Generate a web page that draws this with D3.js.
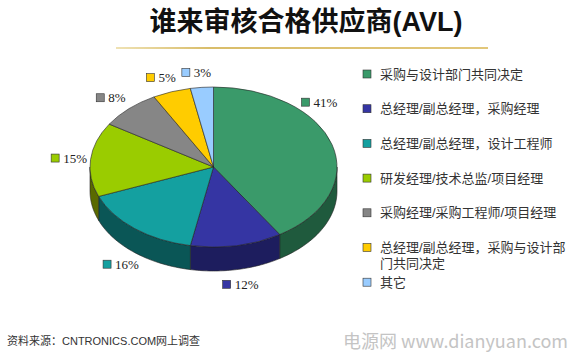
<!DOCTYPE html>
<html>
<head>
<meta charset="utf-8">
<script src="https://cdn.jsdelivr.net/npm/d3@7"></script>
<style>
  body { margin: 0; background: #fff; }
  svg { display: block; }
</style>
</head>
<body>
<script>
// data
const categories = [
  "采购与设计部门共同决定",
  "总经理/副总经理，采购经理",
  "总经理/副总经理，设计工程师",
  "研发经理/技术总监/项目经理",
  "采购经理/采购工程师/项目经理",
  "总经理/副总经理，采购与设计部门共同决定",
  "其它"
];
const shares = [41, 12, 16, 15, 8, 5, 3];

// colours: top face and darker side wall
const topColors  = ["#3a9a6a", "#3535a3", "#14a0a0", "#9acc00", "#868686", "#ffcc00", "#99ccff"];
const sideColors = ["#1f5a3d", "#1d1d5e", "#0a5656", "#5a6a00", "#4a4a4a", "#8a7000", "#55708c"];

const width = 578, height = 352;

// pie geometry (ellipse for the 3d look)
const cx = 213.5, cy = 167, rx = 123.5, ry = 80, depth = 24;

const svg = d3.select("body")
  .append("svg")
    .attr("width", width)
    .attr("height", height);

// title + gold rule
svg.append("text")
  .attr("x", 306)
  .attr("y", 31)
  .attr("text-anchor", "middle")
  .attr("font-family", "'Liberation Sans', 'Noto Sans CJK SC', sans-serif")
  .attr("font-weight", "bold")
  .attr("font-size", 27)
  .attr("fill", "#111")
  .text("谁来审核合格供应商(AVL)");

const grad = svg.append("defs").append("linearGradient")
  .attr("id", "rule").attr("x1", "0%").attr("x2", "100%");
grad.append("stop").attr("offset", "0%").attr("stop-color", "#efe2b4");
grad.append("stop").attr("offset", "25%").attr("stop-color", "#d9bd6a");
grad.append("stop").attr("offset", "100%").attr("stop-color", "#e2c77a");

svg.append("rect")
  .attr("x", 116).attr("y", 47)
  .attr("width", 372).attr("height", 2)
  .attr("fill", "url(#rule)");

// Compute the slices, starting at 12 o'clock going clockwise
const pie = d3.pie().sort(null).value(d => d);
const arcs = pie(shares);

const pt = (a, dz) => [cx + rx * Math.sin(a), cy - ry * Math.cos(a) + dz];

// side walls first (only the front half shows)
const line = d3.line();
arcs.forEach((d, i) => {
  const a0 = Math.max(d.startAngle, Math.PI / 2);
  const a1 = Math.min(d.endAngle, Math.PI * 3 / 2);
  if (a0 >= a1) return;
  const steps = d3.range(0, 41).map(k => a0 + (a1 - a0) * k / 40);
  const pts = steps.map(a => pt(a, 0)).concat(steps.slice().reverse().map(a => pt(a, depth)));
  svg.append("path")
    .attr("d", line(pts) + "Z")
    .attr("fill", sideColors[i])
    .attr("stroke", "#222")
    .attr("stroke-width", 0.6)
    .attr("stroke-linejoin", "round");
});

// top faces: a normal arc squashed vertically
const arcGenerator = d3.arc().innerRadius(0).outerRadius(rx);
svg.append("g")
    .attr("transform", `translate(${cx},${cy}) scale(1,${ry / rx})`)
  .selectAll("path")
  .data(arcs)
  .join("path")
    .attr("d", arcGenerator)
    .attr("fill", (d, i) => topColors[i])
    .attr("stroke", "#222")
    .attr("stroke-width", 0.6)
    .attr("vector-effect", "non-scaling-stroke");

// percentage labels round the pie
const lrx = 145, lry = 95, maxDx = 106;
const labels = svg.append("g");
arcs.forEach((d, i) => {
  const mid = (d.startAngle + d.endAngle) / 2;
  let dx = lrx * Math.sin(mid);
  let dy = -lry * Math.cos(mid);
  if (dx > maxDx) {
    // keep clear of the legend: slide along the ellipse
    dx = maxDx;
    dy = Math.sign(dy) * lry * Math.sqrt(1 - (dx / lrx) ** 2);
  }
  if (Math.cos(mid) < 0) dy += depth;
  const x = cx + dx, y = cy + dy;
  labels.append("rect")
    .attr("x", x - 18).attr("y", y - 4)
    .attr("width", 8).attr("height", 8)
    .attr("fill", topColors[i])
    .attr("stroke", "#333").attr("stroke-width", 0.6);
  labels.append("text")
    .attr("x", x - 6).attr("y", y + 4.5)
    .attr("font-family", "'Liberation Serif', serif")
    .attr("font-size", 13)
    .attr("fill", "#222")
    .text(shares[i] + "%");
});

// legend
const legendX = 363, legendY = 74, legendStep = 34.7, wrapWidth = 190;
const legend = svg.append("g")
  .attr("font-family", "'Liberation Sans', 'Noto Sans CJK SC', sans-serif")
  .attr("font-size", 13)
  .attr("fill", "#333");

categories.forEach((name, i) => {
  const y = legendY + i * legendStep;
  legend.append("rect")
    .attr("x", legendX).attr("y", y - 4)
    .attr("width", 8).attr("height", 8)
    .attr("fill", topColors[i])
    .attr("stroke", "#333").attr("stroke-width", 0.6);
  // wrap long names by measuring, one text per line
  let lineNo = 0, cur = "";
  let t = legend.append("text").attr("x", legendX + 17).attr("y", y + 4.5);
  for (const ch of name) {
    t.text(cur + ch);
    if (t.node().getComputedTextLength() > wrapWidth && cur) {
      t.text(cur);
      cur = ch;
      lineNo++;
      t = legend.append("text")
        .attr("x", legendX + 17)
        .attr("y", y + 4.5 + lineNo * 15.5)
        .text(cur);
    } else {
      cur += ch;
    }
  }
});

// source + watermark
svg.append("text")
  .attr("x", 7).attr("y", 345)
  .attr("font-family", "'Liberation Sans', 'Noto Sans CJK SC', sans-serif")
  .attr("font-size", 11)
  .attr("fill", "#333")
  .text("资料来源：CNTRONICS.COM网上调查");

svg.append("text")
  .attr("x", 568).attr("y", 348)
  .attr("text-anchor", "end")
  .attr("font-family", "'Noto Sans CJK SC', 'Open Sans', sans-serif")
  .attr("font-size", 18)
  .attr("fill", "#c4c4c4")
  .text("电源网 www.dianyuan.com");
</script>
</body>
</html>
